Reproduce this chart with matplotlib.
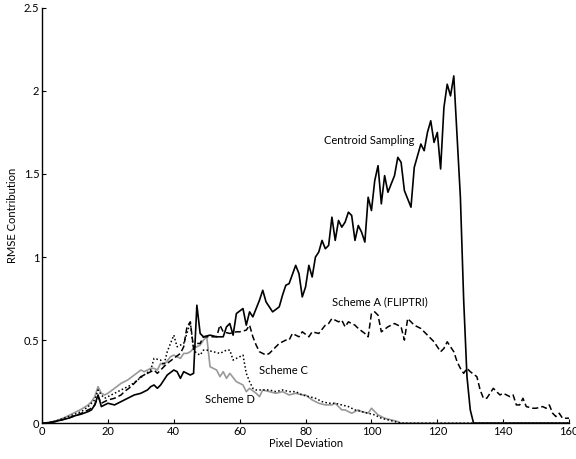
import matplotlib
matplotlib.use("Agg")
import matplotlib.pyplot as plt

plt.rcParams['font.family'] = ['Lato', 'DejaVu Sans']

# --- data ---
centroid_x = [0, 2, 4, 6, 8, 10, 12, 14, 15, 16, 17, 18, 20, 22, 24, 25, 27, 28, 30, 31, 32, 33, 34, 35, 36,
              37, 38, 40, 41, 42, 43, 45, 46, 47, 48, 49, 51, 53, 55, 56, 57, 58, 59, 61, 62, 63, 64, 66,
              67, 68, 70, 72, 73, 74, 75, 77, 78, 79, 80, 81, 82, 83, 84, 85, 86, 87, 88, 89, 90, 91, 92,
              93, 94, 95, 96, 97, 98, 99, 100, 101, 102, 103, 104, 105, 107, 108, 109, 110, 112, 113, 115,
              116, 117, 118, 119, 120, 121, 122, 123, 124, 125, 127, 128, 129, 130, 131, 160]
centroid_y = [0, 0.003, 0.01, 0.02, 0.03, 0.045, 0.055, 0.07, 0.08, 0.11, 0.17, 0.10, 0.12, 0.11, 0.13, 0.14,
              0.16, 0.17, 0.18, 0.19, 0.20, 0.22, 0.23, 0.21, 0.23, 0.26, 0.29, 0.32, 0.31, 0.27, 0.31, 0.29,
              0.30, 0.71, 0.54, 0.52, 0.53, 0.52, 0.52, 0.58, 0.60, 0.53, 0.66, 0.69, 0.59, 0.67, 0.64, 0.74,
              0.80, 0.73, 0.67, 0.70, 0.77, 0.83, 0.84, 0.95, 0.90, 0.76, 0.82, 0.95, 0.88, 1.00, 1.03, 1.10,
              1.05, 1.07, 1.24, 1.10, 1.22, 1.18, 1.21, 1.27, 1.25, 1.10, 1.19, 1.15, 1.09, 1.36, 1.28, 1.46,
              1.55, 1.32, 1.49, 1.39, 1.49, 1.60, 1.57, 1.40, 1.30, 1.54, 1.68, 1.64, 1.75, 1.82, 1.69, 1.75,
              1.53, 1.90, 2.04, 1.97, 2.09, 1.36, 0.74, 0.28, 0.08, 0.0, 0.0]

scheme_a_x = [0, 2, 4, 6, 8, 10, 12, 14, 15, 16, 17, 18, 20, 22, 24, 25, 27, 28, 30, 32, 34, 35, 37, 38, 40,
              42, 43, 44, 45, 46, 47, 48, 49, 50, 52, 53, 54, 55, 57, 59, 60, 62, 63, 64, 65, 66, 68, 69, 71,
              72, 74, 75, 76, 78, 79, 81, 82, 84, 86, 87, 88, 90, 91, 92, 93, 95, 96, 98, 99, 100, 101, 102,
              103, 105, 107, 108, 109, 110, 111, 113, 115, 116, 117, 119, 121, 122, 123, 125, 126, 127, 128,
              129, 130, 132, 133, 134, 135, 136, 137, 139, 140, 142, 143, 144, 145, 146, 147, 149, 150, 152,
              153, 154, 155, 156, 157, 158, 160]
scheme_a_y = [0, 0.003, 0.01, 0.02, 0.03, 0.045, 0.06, 0.08, 0.09, 0.11, 0.16, 0.12, 0.14, 0.15, 0.17, 0.19,
              0.22, 0.24, 0.28, 0.30, 0.32, 0.30, 0.34, 0.36, 0.39, 0.42, 0.46, 0.58, 0.61, 0.45, 0.48, 0.48,
              0.52, 0.52, 0.52, 0.52, 0.59, 0.55, 0.54, 0.55, 0.55, 0.56, 0.59, 0.52, 0.47, 0.43, 0.41, 0.42,
              0.46, 0.48, 0.50, 0.50, 0.54, 0.52, 0.55, 0.52, 0.55, 0.54, 0.59, 0.60, 0.63, 0.61, 0.62, 0.58,
              0.61, 0.59, 0.57, 0.54, 0.52, 0.66, 0.67, 0.65, 0.55, 0.58, 0.60, 0.59, 0.58, 0.50, 0.63, 0.59,
              0.57, 0.55, 0.53, 0.49, 0.43, 0.45, 0.49, 0.43, 0.37, 0.33, 0.30, 0.33, 0.31, 0.28, 0.20, 0.15,
              0.15, 0.18, 0.21, 0.17, 0.18, 0.16, 0.17, 0.11, 0.11, 0.15, 0.10, 0.09, 0.09, 0.10, 0.09, 0.11,
              0.06, 0.04, 0.06, 0.03, 0.03]

scheme_c_x = [0, 2, 4, 6, 8, 10, 12, 14, 15, 16, 17, 18, 19, 20, 22, 24, 27, 29, 31, 33, 34, 36, 37, 38, 40,
              41, 43, 44, 45, 46, 47, 48, 49, 50, 52, 54, 55, 56, 57, 58, 59, 61, 62, 63, 64, 65, 67, 69, 71,
              73, 75, 77, 79, 81, 83, 85, 87, 89, 91, 93, 95, 97, 99, 101, 103, 105, 107, 109, 160]
scheme_c_y = [0, 0.004, 0.012, 0.025, 0.04, 0.055, 0.07, 0.10, 0.12, 0.14, 0.20, 0.17, 0.15, 0.16, 0.18, 0.20,
              0.23, 0.26, 0.29, 0.32, 0.39, 0.38, 0.35, 0.43, 0.53, 0.46, 0.48, 0.54, 0.61, 0.44, 0.42, 0.41,
              0.44, 0.44, 0.43, 0.42, 0.43, 0.44, 0.44, 0.38, 0.39, 0.41, 0.30, 0.25, 0.21, 0.20, 0.20, 0.20,
              0.19, 0.20, 0.19, 0.19, 0.17, 0.16, 0.15, 0.13, 0.12, 0.12, 0.11, 0.10, 0.08, 0.07, 0.06, 0.05,
              0.03, 0.02, 0.01, 0.0, 0.0]

scheme_d_x = [0, 2, 4, 6, 8, 10, 12, 14, 15, 16, 17, 18, 19, 20, 22, 24, 25, 26, 28, 30, 31, 33, 34, 35, 36,
              37, 39, 40, 42, 43, 44, 45, 46, 48, 49, 50, 51, 52, 53, 54, 55, 56, 57, 59, 60, 61, 62, 63, 65,
              66, 67, 69, 71, 73, 75, 77, 79, 80, 82, 84, 86, 88, 89, 91, 92, 94, 96, 97, 99, 100, 102, 104,
              106, 108, 109, 160]
scheme_d_y = [0, 0.004, 0.013, 0.027, 0.045, 0.065, 0.085, 0.11, 0.13, 0.16, 0.22, 0.18, 0.17, 0.18, 0.21,
              0.24, 0.25, 0.26, 0.29, 0.32, 0.31, 0.33, 0.33, 0.32, 0.36, 0.35, 0.40, 0.41, 0.39, 0.42, 0.42,
              0.43, 0.45, 0.47, 0.50, 0.52, 0.34, 0.33, 0.32, 0.28, 0.31, 0.27, 0.30, 0.25, 0.24, 0.23, 0.19,
              0.21, 0.18, 0.16, 0.20, 0.19, 0.18, 0.19, 0.17, 0.18, 0.17, 0.17, 0.14, 0.12, 0.11, 0.11, 0.12,
              0.08, 0.08, 0.06, 0.08, 0.07, 0.06, 0.09, 0.05, 0.03, 0.02, 0.01, 0.0, 0.0]

x_ticks = [0, 20, 40, 60, 80, 100, 120, 140, 160]
y_ticks = [0, 0.5, 1, 1.5, 2, 2.5]
y_tick_labels = ['0', '0.5', '1', '1.5', '2', '2.5']

fig = plt.figure(figsize=(5.76, 4.59), dpi=100)
ax = fig.add_axes([0.073, 0.078, 0.915, 0.905])

ax.plot(scheme_d_x, scheme_d_y, color='#999999', lw=1.2)
ax.plot(scheme_c_x, scheme_c_y, color='black', lw=1.1, linestyle=(0, (1, 1.5)))
ax.plot(scheme_a_x, scheme_a_y, color='black', lw=1.1, linestyle=(0, (4, 2)))
ax.plot(centroid_x, centroid_y, color='black', lw=1.2)

# inline labels
ax.text(85.5, 1.70, 'Centroid Sampling', fontsize=8, va='center')
ax.text(88, 0.73, 'Scheme A (FLIPTRI)', fontsize=8, va='center')
ax.text(66, 0.315, 'Scheme C', fontsize=8, va='center')
ax.text(49.5, 0.145, 'Scheme D', fontsize=8, va='center')

ax.set_xlim(0, 160)
ax.set_ylim(0, 2.5)
ax.set_xticks(x_ticks)
ax.set_yticks(y_ticks)
ax.set_yticklabels(y_tick_labels)
ax.tick_params(direction='in', length=3, width=0.8, labelsize=8, pad=2)
for side in ['top', 'right']:
    ax.spines[side].set_visible(False)
for side in ['left', 'bottom']:
    ax.spines[side].set_linewidth(1.0)

ax.set_xlabel('Pixel Deviation', fontsize=8, labelpad=1)
ax.set_ylabel('RMSE Contribution', fontsize=8, labelpad=4)

fig.savefig('out.png', dpi=100)
